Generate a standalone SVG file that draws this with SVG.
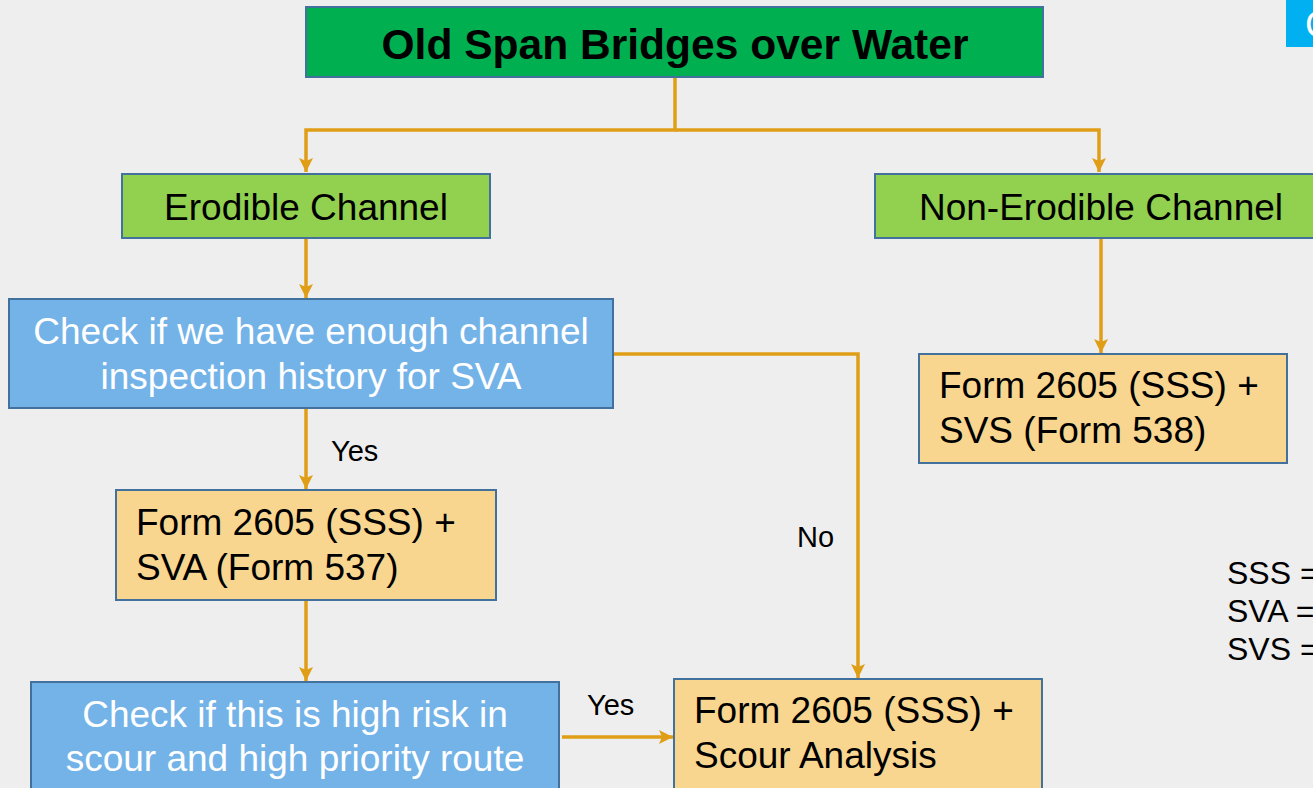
<svg xmlns="http://www.w3.org/2000/svg" width="1313" height="788" viewBox="0 0 1313 788">
<defs>
<style>
.t{font-family:"Liberation Sans",Arial,sans-serif;font-size:37px;fill:#000}
.w{fill:#fff}
.lbl{font-family:"Liberation Sans",Arial,sans-serif;font-size:29px;fill:#000}
.lg{font-size:32px}
.ttl{font-size:43px;font-weight:bold}
.box{stroke:#41719C;stroke-width:2}
.g1{fill:#00B050}
.g2{fill:#92D050}
.bl{fill:#74B3E8}
.or{fill:#F8D690}
.c{fill:none;stroke:#E09E17;stroke-width:3.5}
</style>
<marker id="ah" viewBox="0 0 14 14" markerWidth="14" markerHeight="14" refX="14" refY="7" orient="auto" markerUnits="userSpaceOnUse">
<path d="M0,0 L14,7 L0,14 L3,7 z" fill="#E09E17"/>
</marker>
</defs>
<rect width="1313" height="788" fill="#EEEEEE"/>

<g id="connectors">
<polyline class="c" points="675,78 675,130 306,130 306,172" marker-end="url(#ah)"/>
<polyline class="c" points="675,130 1099,130 1099,172" marker-end="url(#ah)"/>
<line class="c" x1="306" y1="239" x2="306" y2="298" marker-end="url(#ah)"/>
<line class="c" x1="306" y1="409" x2="306" y2="489" marker-end="url(#ah)"/>
<polyline class="c" points="614,354 858,354 858,678" marker-end="url(#ah)"/>
<line class="c" x1="1101" y1="239" x2="1101" y2="353" marker-end="url(#ah)"/>
<line class="c" x1="306" y1="601" x2="306" y2="681" marker-end="url(#ah)"/>
<line class="c" x1="562" y1="737" x2="673" y2="737" marker-end="url(#ah)"/>
<text class="lbl" x="331" y="461">Yes</text>
<text class="lbl" x="797" y="547">No</text>
<text class="lbl" x="587" y="715">Yes</text>
</g>

<g id="title">
<rect class="box g1" x="306" y="7" width="737" height="70"/>
<text class="t ttl" x="675" y="59" text-anchor="middle" textLength="587" lengthAdjust="spacingAndGlyphs">Old Span Bridges over Water</text>
</g>

<g id="erodible">
<rect class="box g2" x="122" y="174" width="368" height="64"/>
<text class="t" x="306" y="220" text-anchor="middle">Erodible Channel</text>
</g>

<g id="nonerodible">
<rect class="box g2" x="875" y="174" width="450" height="64"/>
<text class="t" x="1101" y="220" text-anchor="middle">Non-Erodible Channel</text>
</g>

<g id="check1">
<rect class="box bl" x="9" y="299" width="604" height="109"/>
<text class="t w" x="311" y="344" text-anchor="middle">Check if we have enough channel</text>
<text class="t w" x="311" y="389" text-anchor="middle">inspection history for SVA</text>
</g>

<g id="sva">
<rect class="box or" x="116" y="490" width="380" height="110"/>
<text class="t" x="136" y="535">Form 2605 (SSS) +</text>
<text class="t" x="136" y="580">SVA (Form 537)</text>
</g>

<g id="svs">
<rect class="box or" x="919" y="354" width="368" height="109"/>
<text class="t" x="939" y="398">Form 2605 (SSS) +</text>
<text class="t" x="939" y="443">SVS (Form 538)</text>
</g>

<g id="check2">
<rect class="box bl" x="31" y="682" width="528" height="120"/>
<text class="t w" x="295" y="727" text-anchor="middle">Check if this is high risk in</text>
<text class="t w" x="295" y="771" text-anchor="middle">scour and high priority route</text>
</g>

<g id="scour">
<rect class="box or" x="674" y="679" width="368" height="120"/>
<text class="t" x="694" y="723">Form 2605 (SSS) +</text>
<text class="t" x="694" y="768">Scour Analysis</text>
</g>

<g id="corner">
<rect x="1286" y="0" width="30" height="47" fill="#00B0F0"/>
<text class="t w" x="1305" y="37">C</text>
</g>

<g id="legend">
<text class="lbl lg" x="1227" y="584">SSS =</text>
<text class="lbl lg" x="1227" y="622">SVA =</text>
<text class="lbl lg" x="1227" y="660">SVS =</text>
</g>
</svg>
